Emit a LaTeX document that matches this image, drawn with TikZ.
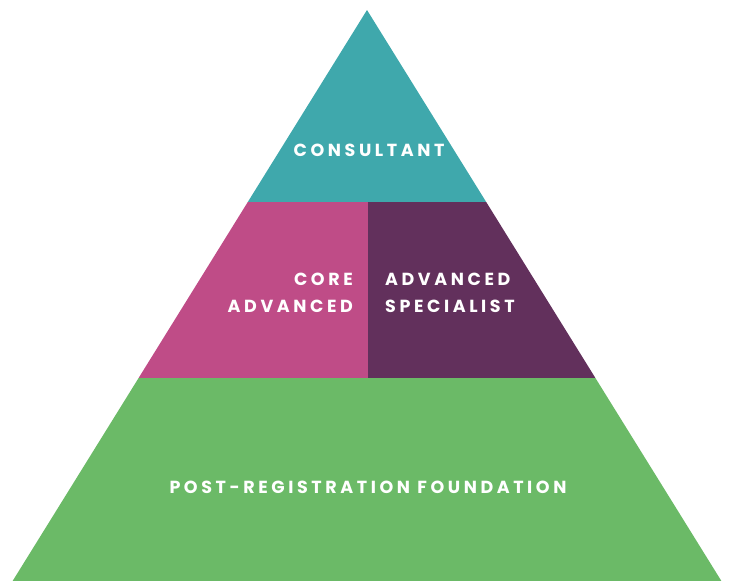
\documentclass[tikz,border=0pt]{standalone}
\usepackage{fontspec}
\setmainfont{Poppins}
\usepackage{tikz}
\definecolor{tealband}{HTML}{3FA8AC}
\definecolor{pinkband}{HTML}{BF4C87}
\definecolor{plumband}{HTML}{62305C}
\definecolor{greenband}{HTML}{6BBA67}
\tikzstyle{band} = [draw=none]
\tikzstyle{label} = [text=white, font=\fontsize{17.5}{27}\selectfont\bfseries\addfontfeature{LetterSpace=20.5}, inner sep=0pt]

\begin{document}
\begin{tikzpicture}[x=1pt,y=-1pt]

\useasboundingbox (0,0) rectangle (731,581);

\fill [band, tealband] (367,10) -- (486.2,202) -- (247.8,202) -- cycle;
\fill [band, pinkband] (247.8,202) -- (368,202) -- (368,378) -- (138.6,378) -- cycle;
\fill [band, plumband] (368,202) -- (486.2,202) -- (595.4,378) -- (368,378) -- cycle;
\fill [band, greenband] (138.6,378) -- (595.4,378) -- (721.4,581) -- (12.6,581) -- cycle;

\node (consultant) [label] at (369,150) {CONSULTANT};

\node (core) [label, anchor=east, align=right] at (353,293) {CORE\\ADVANCED};

\node (specialist) [label, anchor=west, align=left] at (385,293) {ADVANCED\\SPECIALIST};

\node (foundation) [label] at (368,487) {POST-REGISTRATION FOUNDATION};

\end{tikzpicture}
\end{document}
